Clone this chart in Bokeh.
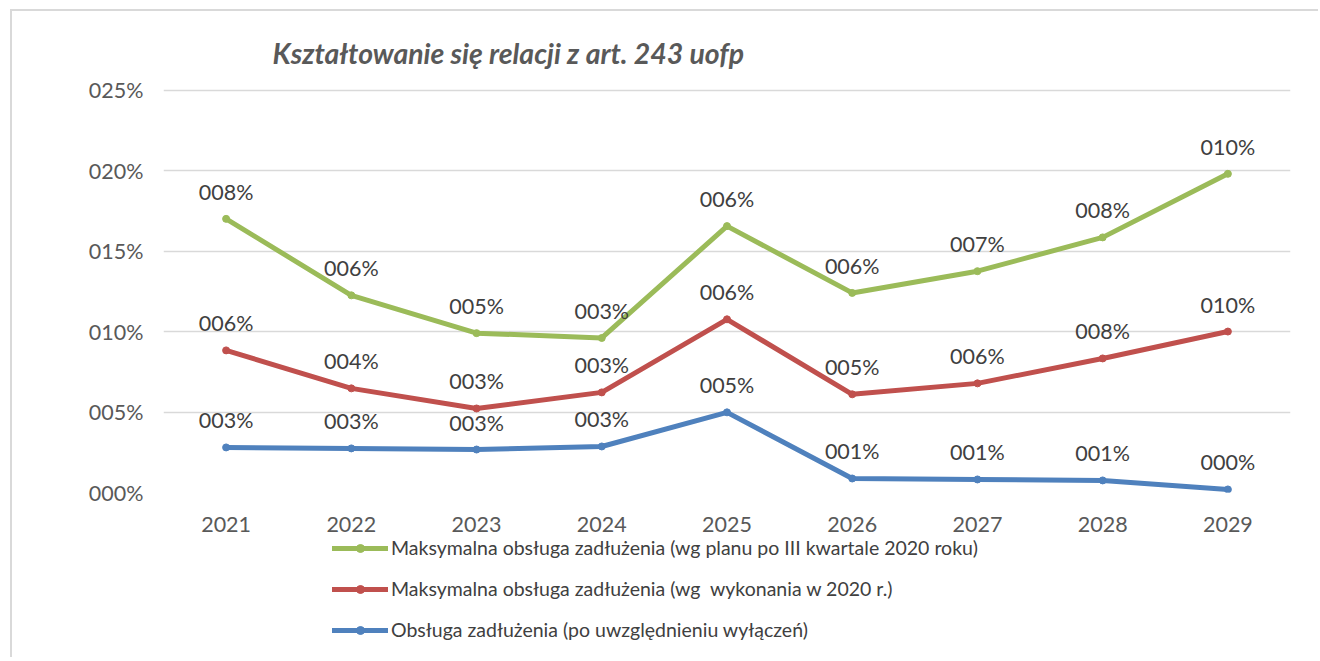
from bokeh.plotting import figure
from bokeh.layouts import column
from bokeh.models import (ColumnDataSource, FactorRange, Range1d, FixedTicker,
                          PrintfTickFormatter, Legend, LegendItem)
from bokeh.core.properties import value
from bokeh.embed import file_html
from bokeh.resources import INLINE

# ---------------- data ----------------
years = ["2021", "2022", "2023", "2024", "2025", "2026", "2027", "2028", "2029"]

green_vals = [17.0, 12.25, 9.9, 9.6, 16.55, 12.4, 13.75, 15.85, 19.8]
red_vals = [8.83, 6.47, 5.22, 6.22, 10.76, 6.1, 6.78, 8.33, 10.0]
blue_vals = [2.8, 2.74, 2.67, 2.86, 4.98, 0.87, 0.81, 0.75, 0.19]

green_labels = ["008%", "006%", "005%", "003%", "006%", "006%", "007%", "008%", "010%"]
red_labels = ["006%", "004%", "003%", "003%", "006%", "005%", "006%", "008%", "010%"]
blue_labels = ["003%", "003%", "003%", "003%", "005%", "001%", "001%", "001%", "000%"]

series_names = [
    "Maksymalna obsługa zadłużenia (wg planu po III kwartale 2020 roku)",
    "Maksymalna obsługa zadłużenia (wg  wykonania w 2020 r.)",
    "Obsługa zadłużenia (po uwzględnieniu wyłączeń)",
]
series_colors = ["#9BBB59", "#C0504D", "#4F81BD"]

y_ticks = [0, 5, 10, 15, 20, 25]
title_text = "Kształtowanie się relacji z art. 243 uofp"

FONT = "Lato"
W = 1306

# ---------------- main chart ----------------
p = figure(width=W, height=524, output_backend="svg", toolbar_location=None,
           x_range=FactorRange(factors=years, range_padding=0),
           y_range=Range1d(0, 25.1),
           min_border_left=151, min_border_right=28,
           min_border_top=77, min_border_bottom=43)
p.outline_line_color = None
p.background_fill_color = "white"
p.border_fill_color = "white"

p.title.text = title_text
p.title.align = "left"
p.title.offset = 109
p.title.standoff = 37
p.title.text_font = FONT
p.title.text_font_size = "28.4px"
p.title.text_font_style = "bold italic"
p.title.text_color = "#595959"

p.xgrid.visible = False
p.ygrid.grid_line_color = "#D9D9D9"
p.ygrid.grid_line_width = 1.5

p.yaxis.ticker = FixedTicker(ticks=y_ticks)
p.yaxis.formatter = PrintfTickFormatter(format="%03d%%")
for ax in (p.xaxis[0], p.yaxis[0]):
    ax.axis_line_color = None
    ax.major_tick_line_color = None
    ax.minor_tick_line_color = None
    ax.major_tick_out = 0
    ax.major_tick_in = 0
    ax.minor_tick_out = 0
    ax.major_label_text_font = FONT
    ax.major_label_text_font_size = "21.5px"
    ax.major_label_text_color = "#595959"
p.yaxis.major_label_standoff = 20
p.xaxis.major_label_standoff = 24

# ---------------- legend strip ----------------
# same categorical x range; y range lies far above the data so nothing shows
pl = figure(width=W, height=122, output_backend="svg", toolbar_location=None,
            x_range=FactorRange(factors=years, range_padding=0),
            y_range=Range1d(100, 101),
            x_axis_location=None, y_axis_location=None,
            min_border_left=0, min_border_right=0, min_border_top=0, min_border_bottom=0)
pl.outline_line_color = None
pl.xgrid.visible = False
pl.ygrid.visible = False

items = []
for vals, labels, name, color in zip([green_vals, red_vals, blue_vals],
                                     [green_labels, red_labels, blue_labels],
                                     series_names, series_colors):
    src = ColumnDataSource(dict(x=years, y=vals, lab=labels))
    p.line("x", "y", source=src, line_color=color, line_width=5,
           line_join="round", line_cap="round")
    p.scatter("x", "y", source=src, size=7, fill_color=color, line_color=color)
    p.text("x", "y", text="lab", source=src, text_align="center",
           text_baseline="middle", y_offset=-27, text_font=value(FONT),
           text_font_size="21.5px", text_color="#404040")
    # legend proxies sharing the series data (out of view in the strip)
    ln = pl.line("x", "y", source=src, line_color=color, line_width=5, line_cap="round")
    dt = pl.scatter("x", "y", source=src, size=7, fill_color=color, line_color=color)
    items.append(LegendItem(label=name, renderers=[ln, dt]))

legend = Legend(items=items, location=(169, 16), orientation="vertical",
                glyph_width=56, glyph_height=20, label_height=20, spacing=18,
                padding=0, margin=0, label_standoff=3,
                border_line_alpha=0, background_fill_alpha=0,
                label_text_font=FONT, label_text_font_size="19.5px",
                label_text_color="#404040")
pl.add_layout(legend, "center")

layout = column(p, pl, spacing=0,
                styles={"border-left": "2px solid #D9D9D9",
                        "border-top": "2px solid #D9D9D9",
                        "border-right": "none", "border-bottom": "none",
                        "margin-left": "10px", "margin-top": "9px"})
open("out.html", "w").write(file_html(layout, INLINE))
